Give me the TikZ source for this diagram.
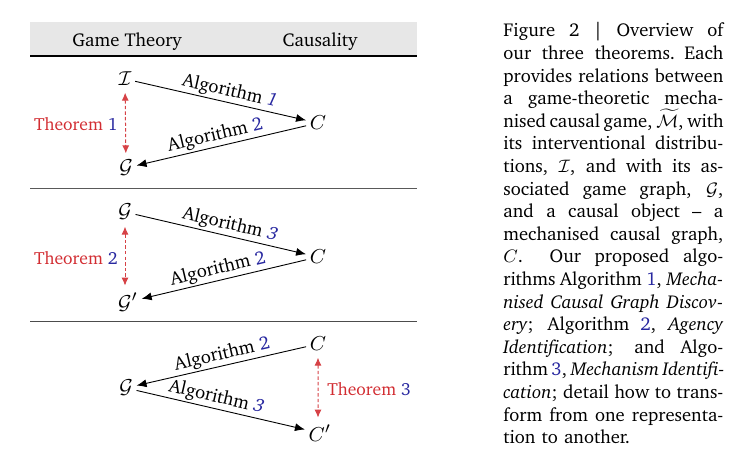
\documentclass[tikz,border=0pt]{standalone}
\usepackage[T1]{fontenc}
\usepackage{charter}
\usepackage{amsmath}
\usetikzlibrary{arrows.meta}
\definecolor{hlblue}{RGB}{40,40,160}
\definecolor{thmred}{RGB}{210,45,50}
\definecolor{bandgray}{RGB}{231,231,231}
\newcommand{\myfs}{\fontsize{9.3}{11.3}\selectfont}
\newcommand{\thfs}{\fontsize{8.8}{11}\selectfont}
\newcommand{\capline}[1]{\hbox to 110pt{\spaceskip=.3em plus 1fil minus .12em\relax #1}}
\begin{document}
\begin{tikzpicture}[x=0.5pt,y=-0.5pt,
  every node/.style={font=\myfs},
  obj/.style={inner sep=1.5pt,scale=1.12},
  alg/.style={line width=0.45pt,black},
  algarr/.style={-{Latex[length=5pt,width=4pt]}},
  algrev/.style={{Latex[length=5pt,width=4pt]}-},
  lab/.style={midway,sloped,above,inner sep=1pt},
  thm/.style={thmred!90,line width=0.5pt,dash pattern=on 1.7pt off 1.1pt,{Latex[length=4pt,width=3.6pt]}-{Latex[length=4pt,width=3.6pt]},shorten >=1.5pt,shorten <=1.5pt},
  thmlab/.style={text=thmred,inner sep=1pt,font=\thfs}
]
\useasboundingbox (0,0) rectangle (735,459);
% header
\fill[bandgray] (30,22) rectangle (417,56);
\draw[line width=0.75pt] (30,56) -- (417,56);
\node[anchor=base] (hgt) at (127,47) {Game Theory};
\node[anchor=base] (hca) at (320,47) {Causality};
\draw[line width=0.5pt,black!65] (30,189) -- (417,189);
\draw[line width=0.5pt,black!70] (30,322) -- (417,322);
% panel 1
\node[obj] (I1) at (125,79) {$\mathcal{I}$};
\node[obj] (C1) at (318,123) {$C$};
\node[obj] (G1) at (126,168) {$\mathcal{G}$};
\draw[alg,algarr] (I1) -- node[lab,pos=0.54] {Algorithm \textcolor{hlblue}{\textit{1}}} (C1);
\draw[alg,algrev] (G1) -- node[lab,pos=0.48] {Algorithm \textcolor{hlblue}{2}} (C1);
\draw[thm] (I1) -- (G1);
\node[thmlab,anchor=east] (T1) at (120,124) {Theorem \textcolor{hlblue}{1}};
% panel 2
\node[obj] (G2) at (125,212) {$\mathcal{G}$};
\node[obj] (C2) at (318,257) {$C$};
\node[obj] (Gp2) at (128,302) {$\mathcal{G}'$};
\draw[alg,algarr] (G2) -- node[lab,pos=0.54] {Algorithm \textcolor{hlblue}{\textit{3}}} (C2);
\draw[alg,algrev] (Gp2) -- node[lab,pos=0.48] {Algorithm \textcolor{hlblue}{2}} (C2);
\draw[thm] (G2) -- (G2 |- Gp2.north);
\node[thmlab,anchor=east] (T2) at (120,258) {Theorem \textcolor{hlblue}{2}};
% panel 3
\node[obj] (C3) at (318,344) {$C$};
\node[obj] (G3) at (126,388) {$\mathcal{G}$};
\node[obj] (Cp3) at (320,433) {$C'$};
\draw[alg,algrev] (G3) -- node[lab,pos=0.52] {Algorithm \textcolor{hlblue}{2}} (C3);
\draw[alg,algarr] (G3) -- node[lab,pos=0.46] {Algorithm \textcolor{hlblue}{\textit{3}}} (Cp3);
\draw[thm] (C3) -- (C3 |- Cp3.north);
\node[thmlab,anchor=west] (T3) at (325,389) {Theorem \textcolor{hlblue}{3}};
% caption
\node[anchor=base west,inner sep=0pt,text width=110pt] (cap) at (503,37) {%
\capline{Figure 2 \textbar{} Overview of}
\capline{our three theorems. Each}
\capline{provides relations between}
\capline{a game-theoretic mecha-}
\capline{nised causal game, $\smash{\widetilde{\mathcal{M}}}$, with}
\capline{its interventional distribu-}
\capline{tions, $\mathcal{I}$, and with its as-}
\capline{sociated game graph, $\mathcal{G}$,}
\capline{and a causal object -- a}
\capline{mechanised causal graph,}
\capline{$C$.\hskip 1em plus 1fil Our proposed algo-}
\capline{rithms Algorithm \textcolor{hlblue}{1}, \emph{Mecha-}}
\capline{\emph{nised Causal Graph Discov-}}
\capline{\emph{ery}; Algorithm \textcolor{hlblue}{2}, \emph{Agency}}
\capline{\emph{Identification}; and Algo-}
\capline{rithm \textcolor{hlblue}{3}, \emph{Mechanism Identifi-}}
\capline{\emph{cation}; detail how to trans-}
\capline{form from one representa-}
\hbox{tion to another.}};
\end{tikzpicture}
\end{document}
